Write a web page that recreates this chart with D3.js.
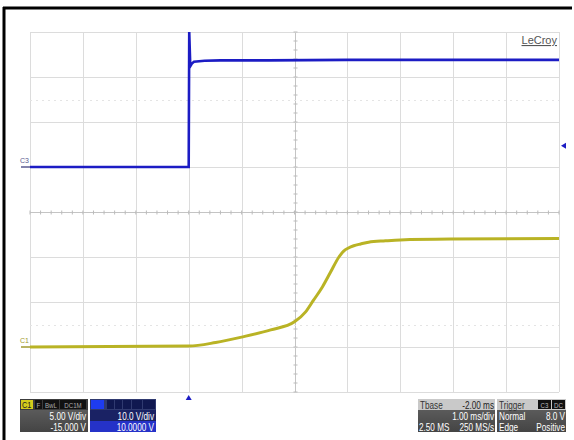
<!DOCTYPE html>
<html><head><meta charset="utf-8">
<script src="https://cdn.jsdelivr.net/npm/d3@7"></script>
<style>
html,body{margin:0;padding:0;background:#fff;}
svg{display:block;font-family:"Liberation Sans Narrow","Liberation Sans",Arial,sans-serif;}
</style></head>
<body><svg id="c" width="574" height="440"></svg>
<script>
// ---- data (time in ms, voltages in V) ----
const c3Time  = [-3, -0.02, 0, 0.01, 0.03, 0.06, 0.1, 0.3, 0.6, 1.5, 3, 5, 7];
const c3Volts = [0, 0, 0, 30, 22.4, 23.0, 23.4, 23.6, 23.7, 23.7, 23.8, 23.8, 23.8];
const c1Time  = [-3, 0, 0.51, 1.0, 1.55, 2.0, 2.21, 2.36, 2.53, 2.68, 2.84, 2.93, 3.02, 3.12, 3.25, 3.4, 3.72, 4.0, 4.95, 7];
const c1Volts = [0, 0.1, 0.5, 1.1, 1.9, 2.8, 3.9, 5.2, 6.7, 8.3, 10.0, 10.65, 11.0, 11.25, 11.45, 11.65, 11.8, 11.9, 12.0, 12.05];
const timeDomain = [-3, 7];          // 10 div x 1 ms/div, trigger at 0
const c1Domain = [-5, 35];           // 5 V/div, offset -15 V
const c3Domain = [-50, 30];          // 10 V/div, offset 10 V
const hDivs = [-3,-2,-1,0,1,2,3,4,5,6,7];
const vDivs = [-5,0,5,10,15,20,25,30,35];
const triggerTime = 0;
const triggerLevelC3 = 4.7;
const c1Info = ["5.00 V/div", "-15.000 V"];
const c3Info = ["10.0 V/div", "10.0000 V"];
const tbaseInfo = ["Tbase", "-2.00 ms", "1.00 ms/div", "2.50 MS", "250 MS/s"];
const trigInfo = ["Trigger", "Normal", "8.0 V", "Edge", "Positive"];

const svg = d3.select("#c");
const L=30, R=559, T=32, B=392;
const x = d3.scaleLinear().domain(timeDomain).range([L, R]);
const y1 = d3.scaleLinear().domain(c1Domain).range([B, T]);
const y3 = d3.scaleLinear().domain(c3Domain).range([B, T]);

// outer frame
svg.append("line").attr("x1",4).attr("x2",4).attr("y1",7).attr("y2",440).attr("stroke","#000").attr("stroke-width",3);
svg.append("line").attr("x1",3).attr("x2",572).attr("y1",8).attr("y2",8).attr("stroke","#000").attr("stroke-width",3);

// grid
const g = svg.append("g");
g.selectAll(".vg").data(hDivs).join("line")
  .attr("x1",d=>Math.round(x(d))+0.5).attr("x2",d=>Math.round(x(d))+0.5)
  .attr("y1",T).attr("y2",B).attr("stroke",d=>d===2?"#c4c4c4":"#dcdcdc").attr("stroke-width",1);
g.selectAll(".hg").data(vDivs).join("line")
  .attr("y1",d=>Math.round(y1(d))+0.5).attr("y2",d=>Math.round(y1(d))+0.5)
  .attr("x1",L).attr("x2",R).attr("stroke",d=>d===15?"#c4c4c4":"#dcdcdc").attr("stroke-width",1);
// faint dotted rows
[27.5, 2.5].forEach(v=>{
  g.append("line").attr("x1",L).attr("x2",R).attr("y1",Math.round(y1(v))+0.5).attr("y2",Math.round(y1(v))+0.5)
   .attr("stroke","#e4e4e4").attr("stroke-dasharray","2,4");
});
// center minor ticks
const cx = Math.round(x(2))+0.5, cy = Math.round(y1(15))+0.5;
const hMinor = d3.range(timeDomain[0], timeDomain[1]+0.001, 0.2);
g.selectAll(".ht").data(hMinor).join("line")
  .attr("x1",d=>x(d)).attr("x2",d=>x(d)).attr("y1",cy-2).attr("y2",cy+2).attr("stroke","#bbb");
const vMinor = d3.range(c1Domain[0], c1Domain[1]+0.001, 1);
g.selectAll(".vt").data(vMinor).join("line")
  .attr("y1",d=>y1(d)).attr("y2",d=>y1(d)).attr("x1",cx-2).attr("x2",cx+2).attr("stroke","#bbb");

// traces
const line3 = d3.line().x((d,i)=>x(c3Time[i])).y(d=>y3(d));
const line1 = d3.line().x((d,i)=>x(c1Time[i])).y(d=>y1(d)).curve(d3.curveMonotoneX);
svg.append("path").attr("d",line1(c1Volts)).attr("fill","none").attr("stroke","#b9b325").attr("stroke-width",3);
svg.append("path").attr("d",line3(c3Volts)).attr("fill","none").attr("stroke","#1c1cc4").attr("stroke-width",2.6).attr("stroke-linejoin","miter");

// channel labels
svg.append("text").attr("x",20).attr("y",y3(0)-4).attr("font-size",7).attr("fill","#5a5a90").text("C3");
svg.append("line").attr("x1",21).attr("x2",30).attr("y1",y3(0)).attr("y2",y3(0)).attr("stroke","#5a5a90").attr("stroke-width",1.5);
svg.append("text").attr("x",20).attr("y",y1(0)-4).attr("font-size",7).attr("fill","#a09a30").text("C1");
svg.append("line").attr("x1",21).attr("x2",30).attr("y1",y1(0)).attr("y2",y1(0)).attr("stroke","#a09a30").attr("stroke-width",1.5);

// trigger markers
const ty = y3(triggerLevelC3);
svg.append("path").attr("d",`M${R+2},${ty} L${R+7},${ty-3} L${R+7},${ty+3} Z`).attr("fill","#1c1cc4");
const tx = x(triggerTime);
svg.append("path").attr("d",`M${tx},${B+3} L${tx-3},${B+8} L${tx+3},${B+8} Z`).attr("fill","#1c1cc4");

// LeCroy
svg.append("text").attr("x",557).attr("y",44).attr("text-anchor","end").attr("font-size",11)
  .attr("font-family","Liberation Sans, Arial").attr("fill","#555").attr("text-decoration","underline").text("LeCroy");

// ---- info panels ----
const fs = 10;
function txt(x0,y0,s,anchor,col,size){
  const gg = svg.append("g").attr("transform",`translate(${x0},${y0}) scale(0.82,1)`);
  return gg.append("text").attr("x",0).attr("y",0).attr("text-anchor",anchor||"start")
    .attr("font-size",size||fs).attr("fill",col||"#fff").text(s);
}
const PT=399, r1=410, r2=421, PB=432;
// C1 panel
const gr = svg.append("defs");
const lg = gr.append("linearGradient").attr("id","gg").attr("x1",0).attr("y1",0).attr("x2",0).attr("y2",1);
lg.append("stop").attr("offset","0").attr("stop-color","#666");
lg.append("stop").attr("offset","1").attr("stop-color","#444");
svg.append("rect").attr("x",20).attr("y",PT).attr("width",68).attr("height",PB-PT).attr("fill","url(#gg)");
svg.append("rect").attr("x",20).attr("y",PT).attr("width",68).attr("height",r1-PT).attr("fill","#3c3c3c");
svg.append("rect").attr("x",21).attr("y",PT+1).attr("width",12).attr("height",9).attr("fill","#d4cc1c");
txt(22,PT+9,"C1","start","#222",9);
[[35,7,"F"],[43,16,"BwL"],[60,26,"DC1M"]].forEach(b=>{
  svg.append("rect").attr("x",b[0]).attr("y",PT+1).attr("width",b[1]).attr("height",9).attr("fill","#111");
  txt(b[0]+b[1]/2,PT+8.5,b[2],"middle","#aaa",7.5);
});
txt(86,r2-1.5,c1Info[0],"end");
txt(86,PB-1.5,c1Info[1],"end");
// C3 panel
svg.append("rect").attr("x",90).attr("y",PT).attr("width",66).attr("height",r1-PT).attr("fill","#303a70");
svg.append("rect").attr("x",90).attr("y",r1).attr("width",66).attr("height",r2-r1).attr("fill","#1a2264");
svg.append("rect").attr("x",90).attr("y",r2).attr("width",66).attr("height",PB-r2).attr("fill","#2532c8");
svg.append("rect").attr("x",91).attr("y",PT+1).attr("width",13).attr("height",9).attr("fill","#1e3cf0");
[[107,7],[115,7],[123,8],[132,10],[143,12]].forEach(b=>{
  svg.append("rect").attr("x",b[0]).attr("y",PT+1).attr("width",b[1]).attr("height",9).attr("fill","#101850");
});
txt(154,r2-1.5,c3Info[0],"end");
txt(154,PB-1.5,c3Info[1],"end");
// Tbase panel
svg.append("rect").attr("x",418).attr("y",PT).attr("width",77).attr("height",PB-PT).attr("fill","url(#gg)");
svg.append("rect").attr("x",418).attr("y",PT).attr("width",77).attr("height",r1-PT).attr("fill","#c9c9c9");
txt(420,r1-1.5,tbaseInfo[0],"start","#333");
txt(494,r1-1.5,tbaseInfo[1],"end","#222");
txt(494,r2-1.5,tbaseInfo[2],"end");
txt(419,PB-1.5,tbaseInfo[3],"start");
txt(494,PB-1.5,tbaseInfo[4],"end");
// Trigger panel
svg.append("rect").attr("x",497).attr("y",PT).attr("width",69).attr("height",PB-PT).attr("fill","url(#gg)");
svg.append("rect").attr("x",497).attr("y",PT).attr("width",69).attr("height",r1-PT).attr("fill","#c9c9c9");
txt(499,r1-1.5,trigInfo[0],"start","#333");
[[538,13,"C3"],[552,13,"DC"]].forEach(b=>{
  svg.append("rect").attr("x",b[0]).attr("y",PT+1).attr("width",b[1]).attr("height",9).attr("fill","#111");
  txt(b[0]+b[1]/2,PT+8.5,b[2],"middle","#bbb",7.5);
});
txt(499,r2-1.5,trigInfo[1],"start");
txt(565,r2-1.5,trigInfo[2],"end");
txt(499,PB-1.5,trigInfo[3],"start");
txt(565,PB-1.5,trigInfo[4],"end");
</script></body></html>
